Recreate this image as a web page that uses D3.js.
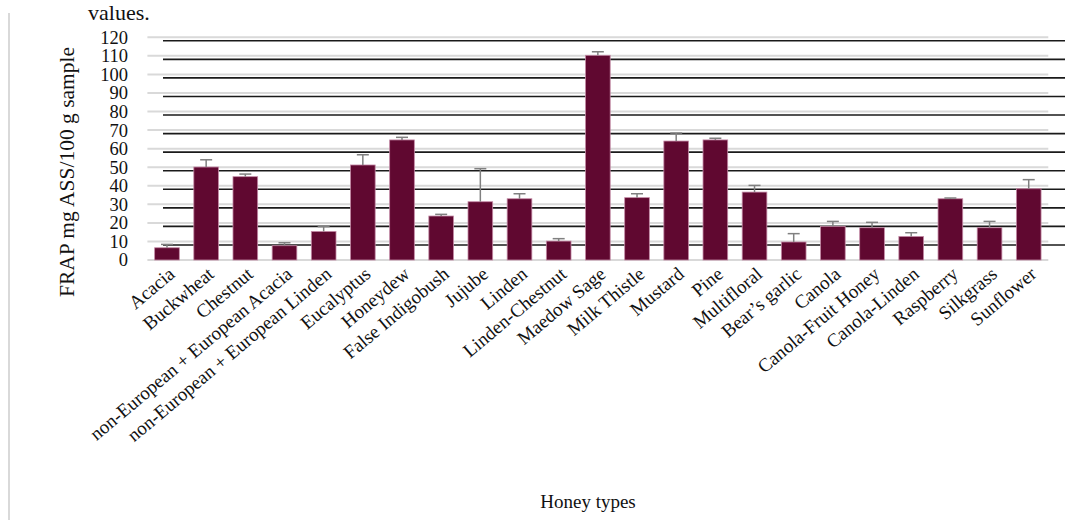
<!DOCTYPE html>
<html>
<head>
<meta charset="utf-8">
<script src="https://cdn.jsdelivr.net/npm/d3@7"></script>
<style>
  html, body { margin: 0; padding: 0; background: #fff; }
  svg { display: block; font-family: "Liberation Serif", "Times New Roman", serif; }
</style>
</head>
<body>
<svg id="chart" width="1065" height="520"></svg>
<script>
// Honey types and their FRAP values (mg ASS / 100 g sample) with upper error
const categories = [
  "Acacia", "Buckwheat", "Chestnut", "non-European + European Acacia",
  "non-European + European Linden", "Eucalyptus", "Honeydew", "False Indigobush",
  "Jujube", "Linden", "Linden-Chestnut", "Maedow Sage", "Milk Thistle", "Mustard",
  "Pine", "Multifloral", "Bear\u2019s garlic", "Canola", "Canola-Fruit Honey",
  "Canola-Linden", "Raspberry", "Silkgrass", "Sunflower"
];
const frapValues = [
  6.6, 50.1, 44.9, 7.7, 15.4, 51.2, 64.7, 23.7, 31.4, 33.0, 10.2, 110.3,
  33.6, 64.1, 64.7, 36.6, 9.7, 18.1, 17.4, 12.7, 33.0, 17.4, 38.4
];
const frapErrors = [
  1.8, 3.9, 1.4, 1.6, 2.6, 5.5, 1.4, 0.9, 17.8, 2.7, 1.3, 1.9,
  2.1, 4.3, 0.9, 3.6, 4.5, 2.7, 2.9, 2.0, 0.4, 3.4, 4.9
];
const yTicks = [0, 10, 20, 30, 40, 50, 60, 70, 80, 90, 100, 110, 120];

const svg = d3.select("#chart");

const plotLeft = 147.4, plotRight = 1048.3, plotTop = 37.3, plotBottom = 260;

const x = d3.scaleBand().domain(categories).range([plotLeft, plotRight]).paddingInner(0.37).paddingOuter(0.185);
const y = d3.scaleLinear().domain([0, 120]).range([plotBottom, plotTop]);

// closing word of the paragraph above the figure
svg.append("text")
  .attr("x", 88).attr("y", 20)
  .attr("font-size", 22)
  .attr("fill", "#111")
  .text("values.");

// left frame line
svg.append("line")
  .attr("x1", 9).attr("x2", 9).attr("y1", 13).attr("y2", 520)
  .attr("stroke", "#d9d9d9").attr("stroke-width", 2);

// light gridlines at each tick
svg.append("g").selectAll("line").data(yTicks).join("line")
  .attr("x1", plotLeft).attr("x2", plotRight)
  .attr("y1", d => y(d)).attr("y2", d => y(d))
  .attr("stroke", "#d9d9d9").attr("stroke-width", 2);

// dark offset gridlines
svg.append("g").selectAll("line").data(yTicks.filter(d => d > 0)).join("line")
  .attr("x1", 163).attr("x2", 1065)
  .attr("y1", d => y(d) + 3.5).attr("y2", d => y(d) + 3.5)
  .attr("stroke", "#1a1a1a").attr("stroke-width", 1.6);

// y axis labels
const yAxis = d3.axisLeft(y).tickValues(yTicks).tickSize(0).tickPadding(0);
const gy = svg.append("g").attr("transform", "translate(128,0)").call(yAxis);
gy.select(".domain").remove();
gy.selectAll("text")
  .attr("font-family", "Liberation Serif, Times New Roman, serif")
  .attr("font-size", 18.5)
  .attr("fill", "#111");

// bars
svg.append("g").selectAll("rect").data(categories).join("rect")
  .attr("x", d => x(d))
  .attr("y", (d, i) => y(frapValues[i]))
  .attr("width", x.bandwidth())
  .attr("height", (d, i) => y(0) - y(frapValues[i]))
  .attr("fill", "#600830")
  .attr("stroke", "#c48aa6")
  .attr("stroke-width", 0.8);

// upper error bars
const eb = svg.append("g").attr("stroke", "#808080").attr("stroke-width", 1.5);
categories.forEach((c, i) => {
  const cx = x(c) + x.bandwidth() / 2;
  const top = y(frapValues[i] + frapErrors[i]);
  eb.append("line").attr("x1", cx).attr("x2", cx).attr("y1", y(frapValues[i])).attr("y2", top);
  eb.append("line").attr("x1", cx - 6).attr("x2", cx + 6).attr("y1", top).attr("y2", top);
});

// x axis category labels
const xAxis = d3.axisBottom(x).tickSize(0).tickPadding(0);
const gx = svg.append("g").attr("transform", `translate(0,${plotBottom})`).call(xAxis);
gx.select(".domain").remove();
gx.selectAll("text")
  .attr("font-family", "Liberation Serif, Times New Roman, serif")
  .attr("font-size", 19)
  .attr("fill", "#111")
  .attr("text-anchor", "end")
  .attr("dy", null)
  .attr("transform", "translate(9,16) rotate(-40)");

// axis titles
svg.append("text")
  .attr("transform", "translate(74,172) rotate(-90)")
  .attr("text-anchor", "middle")
  .attr("font-size", 21.5)
  .attr("fill", "#111")
  .text("FRAP mg ASS/100 g sample");

svg.append("text")
  .attr("x", 588).attr("y", 508)
  .attr("text-anchor", "middle")
  .attr("font-size", 19)
  .attr("fill", "#111")
  .text("Honey types");
</script>
</body>
</html>
